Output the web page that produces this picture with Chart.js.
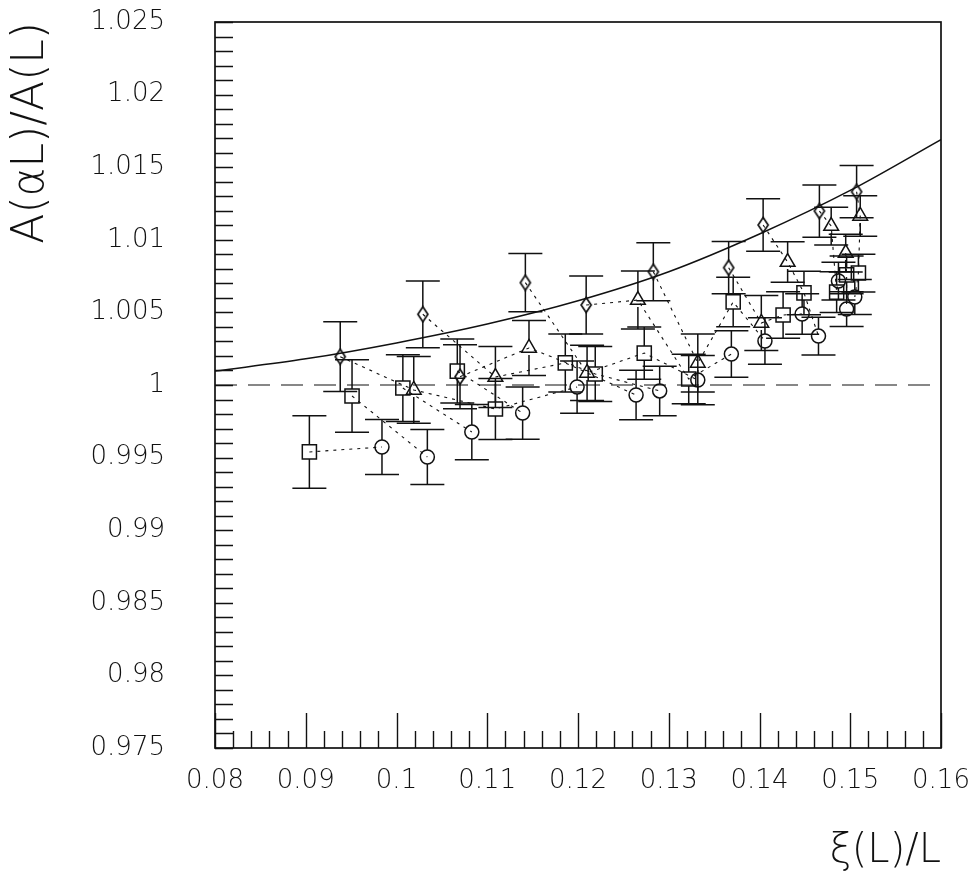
<!DOCTYPE html>
<html><head><meta charset="utf-8">
<script src="https://cdn.jsdelivr.net/npm/chart.js@4/dist/chart.umd.min.js"></script>
<style>html,body{margin:0;padding:0;background:#fff;}</style>
</head><body>
<canvas id="c" width="978" height="886" style="width:978px;height:886px;display:block"></canvas>
<script>
// ---- data (one entry per beta-chain; null = no point) ----
const circX   = [0.0984,0.1034,0.1083,0.1139,0.1199,0.1264,0.1290,0.1332,0.1369,0.1406,0.1447,0.1465,0.1487,0.1496,0.1505];
const circY   = [0.99573,0.99504,0.99676,0.99807,0.99986,0.99931,0.99959,1.00034,1.00213,1.00303,1.00489,1.00337,1.00716,1.00523,1.00606];
const circErr = [0.0019,0.0019,0.0019,0.0018,0.0018,0.0017,0.0017,0.0017,0.0016,0.0016,0.0014,0.0013,0.0013,0.0012,0.0012];

const sqX   = [0.0904,0.0951,0.1007,0.1067,0.1109,0.1186,0.1219,0.1273,0.1322,0.1371,0.1426,0.1449,0.1485,0.1496,0.1509];
const sqY   = [0.99539,0.99924,0.99979,1.00096,0.99835,1.00152,1.00076,1.00220,1.00041,1.00572,1.00482,1.00634,1.00640,1.00758,1.00771];
const sqErr = [0.0025,0.0025,0.0023,0.0022,0.0021,0.0020,0.0019,0.0018,0.0017,0.0017,0.0016,0.0015,0.0014,0.0013,0.0013];

const triX   = [null,null,null,null,0.1019,0.1109,0.1146,0.1210,0.1266,0.1332,0.1402,0.1431,0.1479,0.1495,0.1511];
const triY   = [null,null,null,null,0.99966,1.00055,1.00255,1.00083,1.00585,1.00152,1.00427,1.00847,1.01095,1.00909,1.01164];
const triErr = [null,null,null,null,0.0023,0.0021,0.0019,0.0019,0.0020,0.0020,0.0019,0.0014,0.0013,0.0013,0.0014];

const diaX   = [null,null,null,null,0.0938,0.1029,0.1070,0.1142,0.1209,0.1283,0.1366,0.1404,0.1466,null,0.1507];
const diaY   = [null,null,null,null,1.00195,1.00487,1.00057,1.00705,1.00551,1.00780,1.00808,1.01102,1.01198,null,1.01331];
const diaErr = [null,null,null,null,0.0024,0.0023,0.0022,0.0020,0.0020,0.0020,0.0018,0.0018,0.0018,null,0.0018];

// continuum-limit curve
const fitX = [0.08,0.09,0.10,0.11,0.12,0.13,0.14,0.15,0.16];
const fitY = [1.00096,1.0018,1.0029,1.0042,1.0058,1.0078,1.0104,1.0134,1.0169];

const refLevel = 1.0;
const xMin = 0.08, xMax = 0.16, yMin = 0.975, yMax = 1.025;

// ---- helpers ----
const INK = '#111';
const fmt = v => String(Number(Number(v).toFixed(4)));
const pts = (xs, ys, es) => xs.map((x,i)=> x==null?null:{x:x, y:ys[i], e:es?es[i]:0}).filter(p=>p);

function diamondImg(){
  const w=14,h=18,c=document.createElement('canvas');c.width=w;c.height=h;
  const g=c.getContext('2d');g.strokeStyle=INK;g.lineWidth=1.7;
  g.beginPath();g.moveTo(w/2,1.5);g.lineTo(w-2,h/2);g.lineTo(w/2,h-1.5);g.lineTo(2,h/2);g.closePath();g.stroke();
  return c;
}

const chainSets = circX.map((_,k)=>{
  const d=[];
  if(diaX[k]!=null) d.push({x:diaX[k],y:diaY[k]});
  if(triX[k]!=null) d.push({x:triX[k],y:triY[k]});
  if(sqX[k]!=null) d.push({x:sqX[k],y:sqY[k]});
  if(circX[k]!=null) d.push({x:circX[k],y:circY[k]});
  return {type:'line',data:d,showLine:true,pointRadius:0,borderColor:INK,borderWidth:1.1,borderDash:[3,5],fill:false,tension:0,order:5};
});

const markerBase = {type:'scatter',showLine:false,borderColor:INK,backgroundColor:'rgba(0,0,0,0)',borderWidth:1.5,order:1,errGap:7};

const datasets = [
  {type:'line',data:fitX.map((x,i)=>({x:x,y:fitY[i]})),borderColor:INK,borderWidth:1.5,pointRadius:0,cubicInterpolationMode:'monotone',fill:false,order:4},
  {type:'line',data:[{x:xMin,y:refLevel},{x:xMax,y:refLevel}],borderColor:INK,borderWidth:1.2,borderDash:[22,11],pointRadius:0,fill:false,order:4},
  ...chainSets,
  Object.assign({},markerBase,{data:pts(circX,circY,circErr),pointStyle:'circle',pointRadius:7,errBars:true}),
  Object.assign({},markerBase,{data:pts(sqX,sqY,sqErr),pointStyle:'rect',pointRadius:10,errBars:true}),
  Object.assign({},markerBase,{data:pts(triX,triY,triErr),pointStyle:'triangle',pointRadius:8.5,errBars:true}),
  Object.assign({},markerBase,{data:pts(diaX,diaY,diaErr),pointStyle:diamondImg(),pointRadius:7,errBars:true})
];

const decor = {
  id:'decor',
  afterDatasetsDraw(chart){
    const {ctx, scales:{x,y}} = chart;
    ctx.save();
    ctx.strokeStyle=INK; ctx.lineWidth=1.5; ctx.setLineDash([]);
    chart.data.datasets.forEach(ds=>{
      if(!ds.errBars) return;
      ds.data.forEach(p=>{
        const px=x.getPixelForValue(p.x), py=y.getPixelForValue(p.y);
        const top=y.getPixelForValue(p.y+p.e), bot=y.getPixelForValue(p.y-p.e);
        const g=ds.errGap, cap=17;
        ctx.beginPath();
        ctx.moveTo(px,top); ctx.lineTo(px,py-g);
        ctx.moveTo(px,py+g); ctx.lineTo(px,bot);
        ctx.moveTo(px-cap,top); ctx.lineTo(px+cap,top);
        ctx.moveTo(px-cap,bot); ctx.lineTo(px+cap,bot);
        ctx.stroke();
      });
    });
    ctx.restore();
  },
  afterDraw(chart){
    const {ctx, chartArea:a, scales:{x,y}} = chart;
    ctx.save();
    ctx.strokeStyle=INK; ctx.lineWidth=1.4; ctx.setLineDash([]);
    ctx.beginPath();
    for(let k=0;k<=50;k++){
      const py=Math.round(y.getPixelForValue(yMin+k*0.001))+0.5;
      ctx.moveTo(a.left,py); ctx.lineTo(a.left+18,py);
    }
    for(let k=0;k<=40;k++){
      const px=Math.round(x.getPixelForValue(xMin+k*0.002))+0.5;
      const L=(k%5===0)?35:17;
      ctx.moveTo(px,a.bottom); ctx.lineTo(px,a.bottom-L);
    }
    ctx.stroke();
    ctx.lineWidth=1.7;
    ctx.strokeRect(a.left,a.top,a.right-a.left,a.bottom-a.top);
    ctx.restore();
  }
};

const tickFont = {family:'"DejaVu Sans", sans-serif', size:26, weight:'200'};
new Chart(document.getElementById('c'),{
  type:'scatter',
  data:{datasets},
  options:{
    responsive:false, animation:false, devicePixelRatio:1,
    layout:{padding:{left:0,right:37,top:22,bottom:0}},
    plugins:{legend:{display:false},tooltip:{enabled:false}},
    elements:{line:{borderCapStyle:'butt'}},
    scales:{
      x:{type:'linear',min:xMin,max:xMax,position:'bottom',
        afterFit(s){s.height=138;},
        grid:{display:false,drawTicks:true,tickLength:14},border:{display:false},
        ticks:{stepSize:0.01,padding:4,color:INK,font:tickFont,callback:v=>fmt(v),maxRotation:0,autoSkip:false},
        title:{display:true,text:'ξ(L)/L',align:'end',color:INK,font:{family:'"DejaVu Sans", sans-serif',size:40,weight:'200'},padding:{top:0,bottom:10}}
      },
      y:{type:'linear',min:yMin,max:yMax,position:'left',
        afterFit(s){s.width=215;},
        grid:{display:false,drawTicks:true,tickLength:45},border:{display:false},
        ticks:{stepSize:0.005,padding:5,color:INK,font:tickFont,callback:v=>fmt(v),autoSkip:false},
        title:{display:true,text:'A(αL)/A(L)',align:'end',color:INK,font:{family:'"DejaVu Sans", sans-serif',size:44,weight:'200'},padding:{top:5,bottom:0}}
      }
    }
  },
  plugins:[decor]
});
</script>
</body></html>
